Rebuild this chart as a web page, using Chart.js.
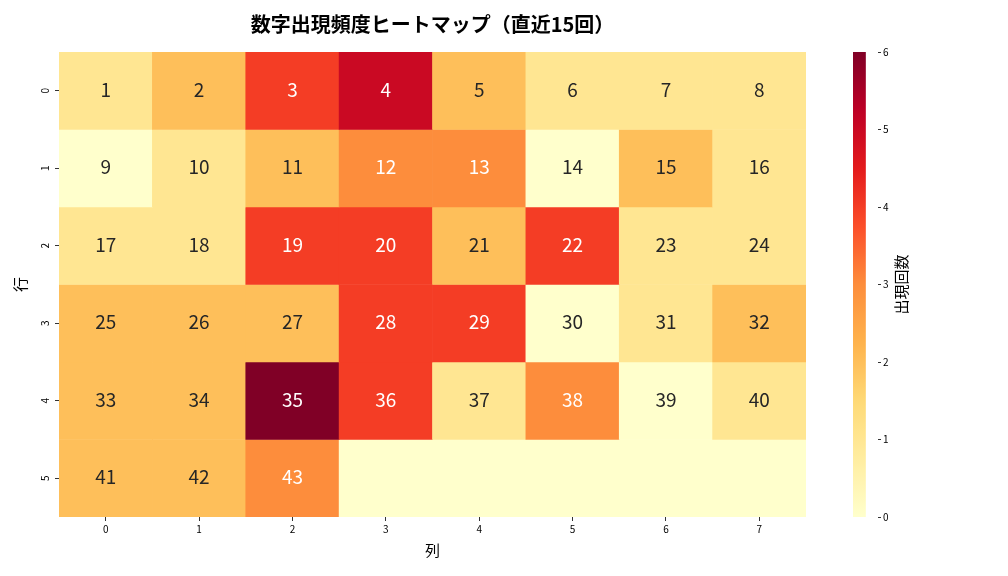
<!DOCTYPE html>
<html>
<head>
<meta charset="utf-8">
<script src="https://cdn.jsdelivr.net/npm/chart.js@4.4.1/dist/chart.umd.min.js"></script>
<style>
  html, body { margin: 0; padding: 0; background: #fff; }
  #wrap { position: relative; width: 1008px; height: 576px; }
  #main { position: absolute; left: 0; top: 0; }
  #cbar { position: absolute; left: 840px; top: 0; }
</style>
</head>
<body>
<div id="wrap">
  <canvas id="main" width="1008" height="576"></canvas>
  <canvas id="cbar" width="168" height="576"></canvas>
</div>
<script>
// ---- data ----
const columnLabels = ['0', '1', '2', '3', '4', '5', '6', '7'];
const rowLabels = ['0', '1', '2', '3', '4', '5'];

// occurrence counts per cell (row by row)
const row0Counts = [1, 2, 4, 5, 2, 1, 1, 1];
const row1Counts = [0, 1, 2, 3, 3, 0, 2, 1];
const row2Counts = [1, 1, 4, 4, 2, 4, 1, 1];
const row3Counts = [2, 2, 2, 4, 4, 0, 1, 2];
const row4Counts = [2, 2, 6, 4, 1, 3, 0, 1];
const row5Counts = [2, 2, 3, 0, 0, 0, 0, 0];

// numbers shown in each cell
const row0Numbers = [1, 2, 3, 4, 5, 6, 7, 8];
const row1Numbers = [9, 10, 11, 12, 13, 14, 15, 16];
const row2Numbers = [17, 18, 19, 20, 21, 22, 23, 24];
const row3Numbers = [25, 26, 27, 28, 29, 30, 31, 32];
const row4Numbers = [33, 34, 35, 36, 37, 38, 39, 40];
const row5Numbers = [41, 42, 43, null, null, null, null, null];

const colorbarTicks = [0, 1, 2, 3, 4, 5, 6];
const countMin = 0;
const countMax = 6;

const titleText = '数字出現頻度ヒートマップ（直近15回）';
const xTitle = '列';
const yTitle = '行';
const cbarTitle = '出現回数';

const allCounts = [row0Counts, row1Counts, row2Counts, row3Counts, row4Counts, row5Counts];
const allNumbers = [row0Numbers, row1Numbers, row2Numbers, row3Numbers, row4Numbers, row5Numbers];

// ---- colour map (YlOrRd) ----
const ylOrRd = ['#ffffcc', '#ffeda0', '#fed976', '#feb24c', '#fd8d3c', '#fc4e2a', '#e31a1c', '#bd0026', '#800026'];
function hexToRgb(h) {
  return [parseInt(h.slice(1, 3), 16), parseInt(h.slice(3, 5), 16), parseInt(h.slice(5, 7), 16)];
}
function cmap(t) {
  t = Math.max(0, Math.min(1, t));
  const n = ylOrRd.length - 1;
  const p = t * n;
  const i = Math.min(Math.floor(p), n - 1);
  const f = p - i;
  const a = hexToRgb(ylOrRd[i]), b = hexToRgb(ylOrRd[i + 1]);
  return [0, 1, 2].map(k => Math.round(a[k] + (b[k] - a[k]) * f));
}
function rgbStr(c) { return 'rgb(' + c[0] + ',' + c[1] + ',' + c[2] + ')'; }
function luminance(c) {
  const v = c.map(x => { x /= 255; return x <= 0.03928 ? x / 12.92 : Math.pow((x + 0.055) / 1.055, 2.4); });
  return 0.2126 * v[0] + 0.7152 * v[1] + 0.0722 * v[2];
}

const FONT = "'Noto Sans CJK JP', 'Noto Sans', sans-serif";
Chart.defaults.font.family = FONT;
Chart.defaults.color = '#000';

const datasets = allCounts.map((counts, r) => ({
  label: 'row ' + rowLabels[r],
  data: counts.map(() => 1),
  backgroundColor: counts.map(v => rgbStr(cmap((v - countMin) / (countMax - countMin)))),
  borderWidth: 0,
  barPercentage: 1,
  categoryPercentage: 1,
  stack: 'rows'
}));

const annotPlugin = {
  id: 'annot',
  afterDatasetsDraw(chart) {
    const ctx = chart.ctx;
    ctx.save();
    ctx.font = '19px ' + FONT;
    ctx.textAlign = 'center';
    ctx.textBaseline = 'middle';
    chart.data.datasets.forEach((ds, r) => {
      const meta = chart.getDatasetMeta(r);
      meta.data.forEach((el, c) => {
        const num = allNumbers[r][c];
        if (num === null || num === undefined) return;
        const col = cmap((allCounts[r][c] - countMin) / (countMax - countMin));
        ctx.fillStyle = luminance(col) > 0.408 ? '#262626' : '#ffffff';
        const cy = (el.y + el.base) / 2;
        ctx.fillText(String(num), el.x, cy - 1);
      });
    });
    ctx.restore();
  },
  afterDraw(chart) {
    const ctx = chart.ctx;
    const a = chart.chartArea;
    ctx.save();
    ctx.font = 'bold 20px ' + FONT;
    ctx.fillStyle = '#000';
    ctx.textAlign = 'center';
    ctx.textBaseline = 'middle';
    ctx.fillText(titleText, (a.left + a.right) / 2, 24);
    ctx.restore();
  }
};

new Chart(document.getElementById('main'), {
  type: 'bar',
  data: { labels: columnLabels, datasets },
  plugins: [annotPlugin],
  options: {
    responsive: false,
    animation: false,
    devicePixelRatio: 1,
    layout: { padding: { left: 0, top: 52, right: 202, bottom: 14 } },
    plugins: { legend: { display: false }, tooltip: { enabled: false }, title: { display: false } },
    scales: {
      x: {
        stacked: true,
        offset: true,
        grid: { display: true, offset: false, drawOnChartArea: false, drawTicks: true, tickLength: 4, color: '#000', lineWidth: 0.8 },
        border: { display: false },
        ticks: { font: { size: 10 }, color: '#000', padding: 2, maxRotation: 0, minRotation: 0 },
        title: { display: true, text: xTitle, font: { size: 15 }, color: '#000', padding: { top: 0, bottom: 3 } },
        afterFit(scale) { scale.height = 45; }
      },
      y: {
        stacked: true,
        reverse: true,
        min: 0,
        max: rowLabels.length,
        grid: { display: true, drawOnChartArea: false, drawTicks: true, tickLength: 4, color: '#000', lineWidth: 0.8 },
        border: { display: false },
        afterBuildTicks(scale) { scale.ticks = rowLabels.map((l, i) => ({ value: i + 0.5 })); },
        ticks: {
          font: { size: 10 }, color: '#000', padding: 7,
          minRotation: 90, maxRotation: 90, crossAlign: 'center',
          callback: (v, i) => rowLabels[i]
        },
        title: { display: true, text: yTitle, font: { size: 15 }, color: '#000', padding: { top: 11, bottom: 0 } },
        afterFit(scale) { scale.width = 59; }
      }
    }
  }
});

// ---- colour bar ----
const cbarPlugin = {
  id: 'cbarLabel',
  afterDraw(chart) {
    const ctx = chart.ctx;
    const a = chart.chartArea;
    ctx.save();
    ctx.font = '15px ' + FONT;
    ctx.fillStyle = '#000';
    ctx.textAlign = 'center';
    ctx.textBaseline = 'middle';
    ctx.translate(61, (a.top + a.bottom) / 2);
    ctx.rotate(-Math.PI / 2);
    ctx.fillText(cbarTitle, 0, 0);
    ctx.restore();
  }
};

new Chart(document.getElementById('cbar'), {
  type: 'bar',
  data: {
    labels: [''],
    datasets: [{
      data: [[countMin, countMax]],
      borderWidth: 0,
      barPercentage: 1,
      categoryPercentage: 1,
      backgroundColor(c) {
        const chart = c.chart;
        const area = chart.chartArea;
        if (!area) return '#fff';
        const g = chart.ctx.createLinearGradient(0, area.bottom, 0, area.top);
        for (let i = 0; i <= 60; i++) g.addColorStop(i / 60, rgbStr(cmap(i / 60)));
        return g;
      }
    }]
  },
  plugins: [cbarPlugin],
  options: {
    responsive: false,
    animation: false,
    devicePixelRatio: 1,
    layout: { padding: { left: 13, top: 52, right: 0, bottom: 59 } },
    plugins: { legend: { display: false }, tooltip: { enabled: false } },
    scales: {
      x: { display: false, offset: false },
      y: {
        position: 'right',
        min: countMin,
        max: countMax,
        afterBuildTicks(scale) { scale.ticks = colorbarTicks.map(v => ({ value: v })); },
        grid: { display: true, drawOnChartArea: false, drawTicks: true, tickLength: 3, color: '#000', lineWidth: 0.8 },
        border: { display: false },
        ticks: { font: { size: 10 }, color: '#000', padding: 2 },
        afterFit(scale) { scale.width = 130; }
      }
    }
  }
});
</script>
</body>
</html>
